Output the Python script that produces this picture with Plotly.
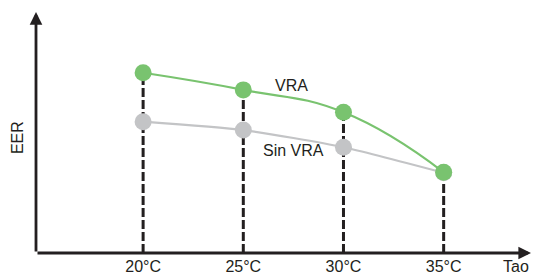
import plotly.graph_objects as go

# ---- data ----
temps = [20, 25, 30, 35]
tick_labels = ["20°C", "25°C", "30°C", "35°C"]
eer_vra = [7.48, 6.77, 5.84, 3.35]
eer_sin_vra = [5.45, 5.10, 4.39, 3.33]
series_names = ["VRA", "Sin VRA"]
x_title = "Tao"
y_title = "EER"

TXT = "#231f20"
GREEN = "#79c36f"
GRAY = "#c3c4c6"

X0, X1 = 14.654, 39.359
Y0, Y1 = 0.0, 10.5

fig = go.Figure()

# dashed drop lines
for t, v in zip(temps, eer_vra):
    fig.add_trace(go.Scatter(x=[t, t], y=[Y0, v], mode="lines",
                             line=dict(color=TXT, width=3, dash="9px,3px"),
                             hoverinfo="skip", showlegend=False))

fig.add_trace(go.Scatter(x=temps, y=eer_sin_vra, mode="lines+markers", name=series_names[1],
                         line=dict(color=GRAY, width=2.2, shape="spline", smoothing=0.6),
                         marker=dict(color=GRAY, size=17), showlegend=False))
fig.add_trace(go.Scatter(x=temps, y=eer_vra, mode="lines+markers", name=series_names[0],
                         line=dict(color=GREEN, width=2.2, shape="spline", smoothing=1.3),
                         marker=dict(color=GREEN, size=17), showlegend=False))

font = dict(family="Liberation Sans, Arial, sans-serif", size=16, color=TXT)
annotations = [
    # axes with arrowheads
    dict(x=X1, y=Y0, ax=X0, ay=Y0, xref="x", yref="y", axref="x", ayref="y",
         showarrow=True, arrowhead=2, arrowsize=0.9, arrowwidth=2.8, arrowcolor=TXT, text=""),
    dict(x=X0, y=10.0, ax=X0, ay=Y0, xref="x", yref="y", axref="x", ayref="y",
         showarrow=True, arrowhead=2, arrowsize=0.9, arrowwidth=2.8, arrowcolor=TXT, text=""),
    dict(x=1, y=Y0, xref="paper", yref="y", text=x_title, showarrow=False,
         xanchor="right", yanchor="top", yshift=-3, font=font),
    dict(x=0, y=4.77, xref="paper", yref="y", text=y_title, showarrow=False,
         textangle=-90, xanchor="center", yanchor="middle", xshift=-19, font=font),
    dict(x=27.43, y=6.95, text=series_names[0], showarrow=False, font=font),
    dict(x=27.52, y=4.27, text=series_names[1], showarrow=False, font=font),
]

fig.update_layout(
    width=535, height=274,
    margin=dict(l=36, r=4, t=0, b=21),
    paper_bgcolor="white", plot_bgcolor="white",
    xaxis=dict(range=[X0, X1], tickvals=temps, ticktext=tick_labels, ticks="",
               showgrid=False, zeroline=False, showline=False, tickfont=font,
               ticklabelstandoff=2),
    yaxis=dict(range=[Y0, Y1], showticklabels=False, ticks="", showgrid=False,
               zeroline=False, showline=False),
    annotations=annotations,
    showlegend=False,
)

fig.write_html("out.html", config={"displayModeBar": False},
               post_script="document.body.style.margin='0';document.body.style.overflow='hidden';")
